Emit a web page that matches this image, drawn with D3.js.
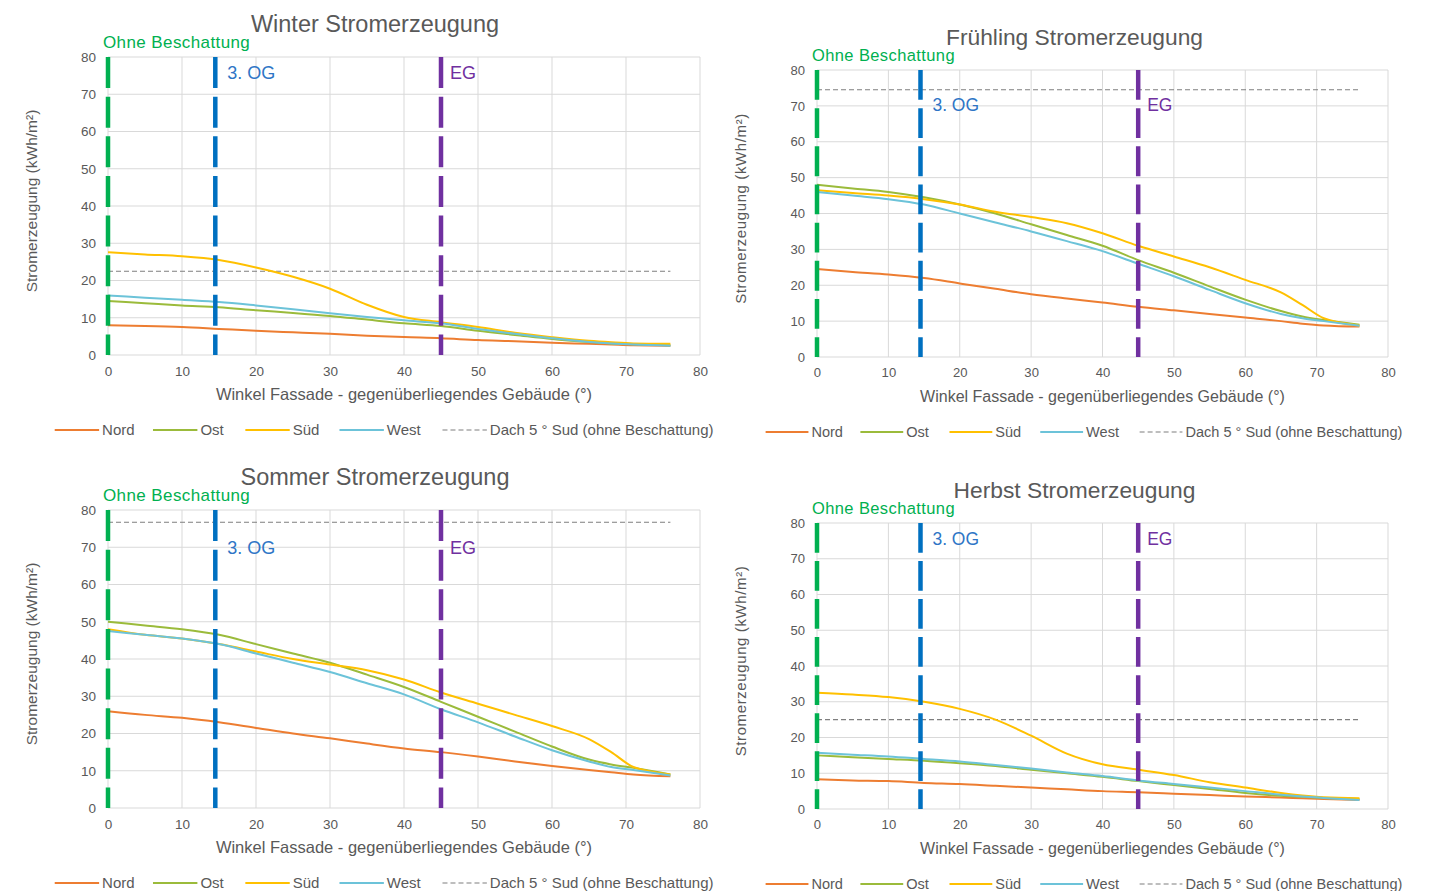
<!DOCTYPE html>
<html>
<head>
<meta charset="utf-8">
<script src="https://cdn.jsdelivr.net/npm/d3@7"></script>
<style>
  body { margin: 0; background: #fff; }
  svg text { font-family: "Liberation Sans", Arial, sans-serif; }
</style>
</head>
<body>
<div class="visHolder"></div>
<script>
// angle values (x) shared by all series
var angles = [0, 5, 10, 15, 20, 25, 30, 35, 40, 45, 50, 55, 60, 65, 68, 71, 76];
var xTicks = [0, 10, 20, 30, 40, 50, 60, 70, 80];
var yTicks = [0, 10, 20, 30, 40, 50, 60, 70, 80];
var seriesNames = ["Nord", "Ost", "Süd", "West"];
var dachLabel = "Dach 5 ° Sud (ohne Beschattung)";
var markerAngles = [0, 14.5, 45]; // Ohne Beschattung, 3. OG, EG

var winterNord = [8, 7.8, 7.5, 7, 6.5, 6.1, 5.7, 5.2, 4.8, 4.5, 4, 3.7, 3.3, 3, 2.8, 2.6, 2.5];
var winterOst  = [14.5, 13.9, 13.3, 12.8, 12, 11.3, 10.5, 9.5, 8.5, 7.8, 6.5, 5.4, 4.3, 3.5, 3.1, 2.9, 2.6];
var winterSued = [27.6, 27, 26.5, 25.5, 23.5, 21, 17.8, 13.5, 10.2, 8.8, 7.5, 6, 4.8, 3.8, 3.4, 3.1, 3];
var winterWest = [16, 15.4, 14.8, 14.2, 13.3, 12.3, 11.2, 10.2, 9.3, 8.5, 7, 5.7, 4.5, 3.5, 3.1, 2.8, 2.5];
var winterDach = 22.5;

var fruehNord = [24.5, 23.7, 23, 22, 20.5, 19, 17.5, 16.3, 15.2, 14, 13, 12, 11, 10, 9.3, 8.8, 8.5];
var fruehOst  = [48, 47, 46, 44.5, 42.5, 40, 37, 34, 31, 27, 23.5, 19.7, 16, 12.8, 11.3, 10.3, 9];
var fruehSued = [46.5, 45.7, 45, 44, 42.5, 40.5, 39, 37.3, 34.5, 31, 28, 25, 21.5, 18, 14.5, 10.8, 8.8];
var fruehWest = [46, 45, 44, 42.5, 40, 37.5, 35, 32.3, 29.5, 26, 22.5, 18.7, 15, 12, 10.8, 10, 8.7];
var fruehDach = 74.5;

var sommerNord = [26, 25, 24.2, 23, 21.5, 20, 18.7, 17.3, 16, 15, 13.8, 12.5, 11.3, 10.2, 9.6, 9, 8.5];
var sommerOst  = [50, 49, 48, 46.5, 44, 41.5, 39, 35.8, 32.5, 28.5, 24.5, 20.5, 16.5, 13, 11.7, 10.8, 9];
var sommerSued = [48, 46.5, 45.5, 44, 42, 40, 38.5, 37, 34.5, 31, 28, 25, 22, 18.5, 15, 11, 9];
var sommerWest = [47.5, 46.5, 45.5, 44, 41.5, 39, 36.5, 33.5, 30.5, 26.5, 23, 19.2, 15.5, 12.5, 11, 10.2, 8.7];
var sommerDach = 76.7;

var herbstNord = [8.3, 8, 7.8, 7.3, 7, 6.5, 6, 5.5, 5, 4.7, 4.3, 3.9, 3.5, 3.2, 3, 2.8, 2.5];
var herbstOst  = [15, 14.5, 14, 13.5, 12.8, 12, 11, 10, 9, 7.8, 6.7, 5.6, 4.5, 3.7, 3.4, 3.1, 2.8];
var herbstSued = [32.5, 32, 31.3, 30, 28, 25, 20.5, 15.5, 12.5, 11, 9.5, 7.5, 6, 4.5, 3.8, 3.3, 3];
var herbstWest = [15.7, 15.2, 14.7, 14, 13.3, 12.3, 11.3, 10.2, 9.2, 8, 7, 6, 5, 4, 3.5, 3.1, 2.5];
var herbstDach = 25;

var width = 1429, height = 891;
var color = d3.scaleOrdinal()
  .domain(seriesNames)
  .range(['#ED7D31', '#9BBB3B', '#FFC000', '#6CC3D9']);
var markerColors = ['#00B050', '#0070C0', '#7030A0'];

var panels = [
  { title: "Winter Stromerzeugung", left: 108, top: 57, w: 592, h: 298,
    series: [winterNord, winterOst, winterSued, winterWest], dach: winterDach, labelY: 75.7, big: true },
  { title: "Frühling Stromerzeugung", left: 817, top: 70, w: 571, h: 287,
    series: [fruehNord, fruehOst, fruehSued, fruehWest], dach: fruehDach, labelY: 70.3, big: false },
  { title: "Sommer Stromerzeugung", left: 108, top: 510, w: 592, h: 298,
    series: [sommerNord, sommerOst, sommerSued, sommerWest], dach: sommerDach, labelY: 70, big: true },
  { title: "Herbst Stromerzeugung", left: 817, top: 523, w: 571, h: 286,
    series: [herbstNord, herbstOst, herbstSued, herbstWest], dach: herbstDach, labelY: 75.5, big: false }
];

var svgContainer = d3.select(".visHolder").append("svg")
  .attr("width", width).attr("height", height);

panels.forEach(function (p) {
  var g = svgContainer.append("g").attr("transform", `translate(${p.left}, ${p.top})`);
  var xScale = d3.scaleLinear().domain([0, 80]).range([0, p.w]);
  var yScale = d3.scaleLinear().domain([0, 80]).range([p.h, 0]);
  var fs = p.big ? 1 : 0.97;

  // grid
  g.selectAll(".hgrid").data(yTicks).enter().append("line")
    .attr("x1", 0).attr("x2", p.w)
    .attr("y1", d => yScale(d)).attr("y2", d => yScale(d))
    .style("stroke", "#d9d9d9").style("stroke-width", 1);
  g.selectAll(".vgrid").data(xTicks).enter().append("line")
    .attr("y1", 0).attr("y2", p.h)
    .attr("x1", d => xScale(d)).attr("x2", d => xScale(d))
    .style("stroke", "#d9d9d9").style("stroke-width", 1);

  // axes (labels only)
  var xAxis = d3.axisBottom(xScale).tickValues(xTicks).tickSize(0).tickPadding(11);
  var xg = g.append("g").attr("transform", `translate(0, ${p.h})`).call(xAxis);
  var yAxis = d3.axisLeft(yScale).tickValues(yTicks).tickSize(0).tickPadding(12);
  var yg = g.append("g").call(yAxis);
  [xg, yg].forEach(function (a) {
    a.select(".domain").remove();
    a.selectAll("text").style("font-size", (13.5 * fs) + "px").style("fill", "#595959")
      .style("font-family", '"Liberation Sans", Arial, sans-serif');
  });

  // roof reference
  g.append("line")
    .attr("x1", xScale(angles[0])).attr("x2", xScale(angles[angles.length - 1]))
    .attr("y1", yScale(p.dach)).attr("y2", yScale(p.dach))
    .style("stroke", "#7f7f7f").style("stroke-width", 1.1).style("stroke-dasharray", "5,3");

  // series lines
  var line = d3.line()
    .x((d, i) => xScale(angles[i]))
    .y(d => yScale(d))
    .curve(d3.curveMonotoneX);
  g.selectAll(".series").data(p.series).enter().append("path")
    .attr("d", line)
    .style("fill", "none")
    .style("stroke", (d, i) => color(seriesNames[i]))
    .style("stroke-width", 2);

  // vertical markers
  var dash = p.h * 0.104, gap = p.h * 0.029;
  g.selectAll(".marker").data(markerAngles).enter().append("line")
    .attr("x1", d => xScale(d)).attr("x2", d => xScale(d))
    .attr("y1", 0).attr("y2", p.h)
    .style("stroke", (d, i) => markerColors[i])
    .style("stroke-width", 4.5)
    .style("stroke-dasharray", dash + "," + gap);

  g.append("text").attr("x", -5).attr("y", -9)
    .style("font-size", (17 * fs) + "px").style("letter-spacing", "0.4px")
    .style("fill", "#00B050").text("Ohne Beschattung");
  g.append("text").attr("x", xScale(markerAngles[1]) + 12).attr("y", yScale(p.labelY)).attr("dy", ".35em")
    .style("font-size", (18 * fs) + "px").style("fill", "#2E75C6").text("3. OG");
  g.append("text").attr("x", xScale(markerAngles[2]) + 9).attr("y", yScale(p.labelY)).attr("dy", ".35em")
    .style("font-size", (18 * fs) + "px").style("fill", "#7030A0").text("EG");

  // titles
  g.append("text").attr("x", p.w / 2 - 0.049 * p.w).attr("y", -25)
    .style("text-anchor", "middle").style("font-size", (23.5 * fs) + "px").style("fill", "#595959")
    .text(p.title);
  g.append("text").attr("x", p.w / 2).attr("y", p.h + 45)
    .style("text-anchor", "middle").style("font-size", (16.5 * fs) + "px").style("fill", "#595959")
    .text("Winkel Fassade - gegenüberliegendes Gebäude (°)");
  g.append("text").attr("transform", "rotate(-90)")
    .attr("x", -p.h / 2 + 5).attr("y", -71)
    .style("text-anchor", "middle").style("font-size", (15.5 * fs) + "px")
    .style("letter-spacing", p.big ? "0px" : "0.6px").style("fill", "#595959")
    .text("Stromerzeugung (kWh/m²)");

  // legend
  var legendOffsets = [-0.09, 0.076, 0.232, 0.391, 0.565];
  var legendItems = seriesNames.concat([dachLabel]);
  var lineLen = 0.075 * p.w;
  var legend = g.selectAll(".legend-label").data(legendItems).enter().append("g")
    .attr("transform", (d, i) => `translate(${legendOffsets[i] * p.w}, ${p.h + 75})`);
  legend.append("line")
    .attr("x1", 0).attr("x2", lineLen).attr("y1", 0).attr("y2", 0)
    .style("stroke", (d, i) => i < 4 ? color(d) : "#7f7f7f")
    .style("stroke-width", (d, i) => i < 4 ? 1.8 : 1.2)
    .style("stroke-dasharray", (d, i) => i < 4 ? null : "5,3");
  legend.append("text")
    .attr("x", lineLen + 3).attr("y", 0).attr("dy", ".35em")
    .style("font-size", (15 * fs) + "px").style("fill", "#595959")
    .text(d => d);
});
</script>
</body>
</html>
